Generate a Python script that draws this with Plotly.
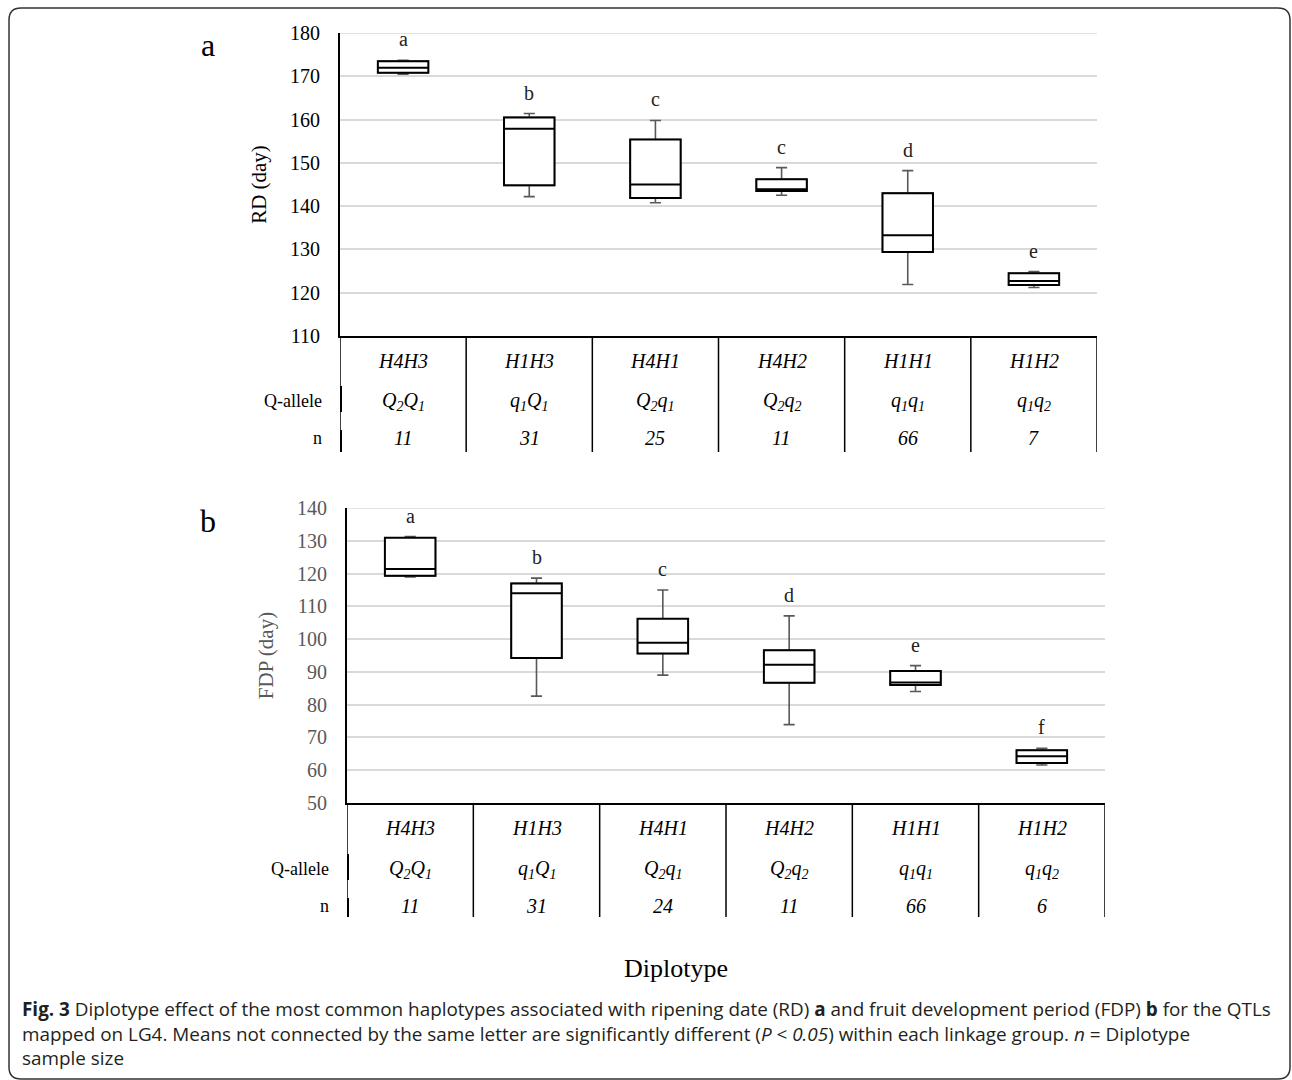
import plotly.graph_objects as go

# ---------------- data ----------------
diplotypes = ["H4H3", "H1H3", "H4H1", "H4H2", "H1H1", "H1H2"]
q_alleles = ["Q<sub>2</sub>Q<sub>1</sub>", "q<sub>1</sub>Q<sub>1</sub>", "Q<sub>2</sub>q<sub>1</sub>",
             "Q<sub>2</sub>q<sub>2</sub>", "q<sub>1</sub>q<sub>1</sub>", "q<sub>1</sub>q<sub>2</sub>"]

# Panel a: RD (day)
rd_low = [170.5, 142.2, 140.8, 142.5, 121.9, 121.2]
rd_q1 = [170.8, 144.8, 141.9, 143.5, 129.4, 121.8]
rd_med = [172.0, 157.9, 145.0, 143.9, 133.3, 122.7]
rd_q3 = [173.5, 160.5, 155.4, 146.2, 143.0, 124.5]
rd_high = [173.7, 161.4, 159.8, 148.9, 148.2, 124.9]
rd_letters = ["a", "b", "c", "c", "d", "e"]
rd_n = ["11", "31", "25", "11", "66", "7"]

# Panel b: FDP (day)
fdp_low = [119.0, 82.6, 89.0, 73.9, 84.0, 61.6]
fdp_q1 = [119.3, 94.2, 95.6, 86.7, 86.0, 62.2]
fdp_med = [121.4, 114.0, 98.9, 92.2, 86.8, 64.3]
fdp_q3 = [130.9, 117.0, 106.2, 96.6, 90.3, 66.1]
fdp_high = [131.3, 118.6, 115.0, 107.1, 91.9, 66.7]
fdp_letters = ["a", "b", "c", "d", "e", "f"]
fdp_n = ["11", "31", "24", "11", "66", "6"]

# ---------------- layout helpers ----------------
W, H = 1292, 1080
SERIF = "Liberation Serif"
SANS = "Open Sans"
GRAY = "#595959"
GRID = "#d9d9d9"


def px(x):
    return x / W


def py(y):
    return 1 - y / H


fig = go.Figure()

panels = [
    dict(xa="x", ya="y", low=rd_low, q1=rd_q1, med=rd_med, q3=rd_q3, high=rd_high,
         letters=rd_letters, n=rd_n, xdom=(340, 1097), ydom=(33, 336), tbl_bottom=452,
         rows=(361, 401, 438), rng=(110, 180), title="RD (day)", tcolor="black",
         label="a", label_pos=(208, 45)),
    dict(xa="x2", ya="y2", low=fdp_low, q1=fdp_q1, med=fdp_med, q3=fdp_q3, high=fdp_high,
         letters=fdp_letters, n=fdp_n, xdom=(347, 1105), ydom=(508, 803), tbl_bottom=917,
         rows=(828, 869, 906), rng=(50, 140), title="FDP (day)", tcolor=GRAY,
         label="b", label_pos=(208, 521)),
]

annotations = []
shapes = []


def ann(**kw):
    d = dict(showarrow=False, xanchor="center", yanchor="middle")
    d.update(kw)
    annotations.append(d)


for k, p in enumerate(panels):
    # whiskers (gray) - full box
    fig.add_trace(go.Box(
        x=diplotypes, q1=p["q1"], median=p["med"], q3=p["q3"],
        lowerfence=p["low"], upperfence=p["high"],
        width=0.4, whiskerwidth=0.22, boxpoints=False,
        line=dict(color=GRAY, width=1.6), fillcolor="white",
        xaxis=p["xa"], yaxis=p["ya"], hoverinfo="skip"))
    # box body (black) on top
    fig.add_trace(go.Box(
        x=diplotypes, q1=p["q1"], median=p["med"], q3=p["q3"],
        lowerfence=p["q1"], upperfence=p["q3"],
        width=0.4, whiskerwidth=0.0, boxpoints=False,
        line=dict(color="black", width=2), fillcolor="white",
        xaxis=p["xa"], yaxis=p["ya"]))

    ydom_px = p["ydom"][1] - p["ydom"][0]
    bottom = p["ydom"][1]

    def dom(y, bottom=bottom, ydom_px=ydom_px):
        return -(y - bottom) / ydom_px

    ydomref = p["ya"] + " domain"
    xdomref = p["xa"] + " domain"
    # top gridline (at the range maximum)
    shapes.append(dict(type="line", xref=xdomref, yref=p["ya"], x0=0, x1=1,
                       y0=p["rng"][1], y1=p["rng"][1], layer="below",
                       line=dict(color=GRID, width=1.5)))
    for i, cat in enumerate(diplotypes):
        # significance letters
        ann(x=cat, y=p["high"][i], xref=p["xa"], yref=p["ya"], text=p["letters"][i],
            yshift=21, font=dict(family=SERIF, size=20, color="#222"))
        # table rows
        ann(x=cat, y=dom(p["rows"][0]), xref=p["xa"], yref=ydomref,
            text="<i>%s</i>" % cat, font=dict(family=SERIF, size=20, color="black"))
        ann(x=cat, y=dom(p["rows"][1]), xref=p["xa"], yref=ydomref,
            text="<i>%s</i>" % q_alleles[i], font=dict(family=SERIF, size=20, color="black"))
        ann(x=cat, y=dom(p["rows"][2]), xref=p["xa"], yref=ydomref,
            text="<i>%s</i>" % p["n"][i], font=dict(family=SERIF, size=20, color="black"))
    # row labels
    ann(x=-0.5, y=dom(p["rows"][1]), xref=p["xa"], yref=ydomref, text="Q-allele",
        xanchor="right", xshift=-16, font=dict(family=SERIF, size=18, color="black"))
    ann(x=-0.5, y=dom(p["rows"][2]), xref=p["xa"], yref=ydomref, text="n",
        xanchor="right", xshift=-16, font=dict(family=SERIF, size=18, color="black"))
    # panel label
    ann(x=px(p["label_pos"][0]), y=py(p["label_pos"][1]), xref="paper", yref="paper",
        text=p["label"], font=dict(family=SERIF, size=32, color="black"))
    # table grid lines
    tb = dom(p["tbl_bottom"])
    for j in range(len(diplotypes) + 1):
        shapes.append(dict(type="line", xref=p["xa"], yref=ydomref, x0=j - 0.5, x1=j - 0.5,
                           y0=0, y1=tb, line=dict(color="black", width=1.5)))
    # thick left-border segments at Q-allele and n rows
    for (a, b) in [(p["rows"][1] - 15, p["rows"][1] + 11), (p["rows"][2] - 8, p["tbl_bottom"])]:
        shapes.append(dict(type="line", xref=p["xa"], yref=ydomref, x0=-0.5, x1=-0.5,
                           y0=dom(a), y1=dom(b), line=dict(color="black", width=4)))

    axis_sfx = "" if k == 0 else "2"
    fig.update_layout(**{
        "xaxis" + axis_sfx: dict(domain=[px(p["xdom"][0]), px(p["xdom"][1])], type="category",
                                 categoryorder="array", categoryarray=diplotypes,
                                 range=[-0.5, 5.5], showticklabels=False, ticks="",
                                 showgrid=False, zeroline=False, showline=True,
                                 linecolor="black", linewidth=2, anchor=p["ya"],
                                 fixedrange=True, automargin=False),
        "yaxis" + axis_sfx: dict(domain=[py(p["ydom"][1]), py(p["ydom"][0])],
                                 range=list(p["rng"]), dtick=10, tick0=0,
                                 showline=True, linecolor="black", linewidth=2,
                                 showgrid=True, gridcolor=GRID, gridwidth=1.5,
                                 zeroline=False, ticks="", ticklabelstandoff=14,
                                 tickfont=dict(family=SERIF, size=20, color=p["tcolor"]),
                                 title=dict(text=p["title"], standoff=18,
                                            font=dict(family=SERIF, size=21, color=p["tcolor"])),
                                 anchor=p["xa"], fixedrange=True, automargin=False),
    })

# x-axis common title
ann(x=px(676), y=py(968), xref="paper", yref="paper", text="Diplotype",
    font=dict(family=SERIF, size=26, color="black"))

# caption (single multi-line text)
caption = (
    "<b>Fig. 3</b> Diplotype effect of the most common haplotypes associated with ripening date (RD) "
    "<b>a</b> and fruit development period (FDP) <b>b</b> for the QTLs<br>"
    "mapped on LG4. Means not connected by the same letter are significantly different "
    "(<i>P</i> &lt; <i>0.05</i>) within each linkage group. <i>n</i> = Diplotype<br>"
    "sample size"
)
ann(x=px(20), y=py(1033), xref="paper", yref="paper", text=caption,
    xanchor="left", align="left", font=dict(family=SANS, size=18.9, color="#231f20"))

# rounded frame
x0f, x1f, y0f, y1f, r = 9, 1290, 8, 1079, 12
path = (f"M {px(x0f)},{py(y1f - r)} L {px(x0f)},{py(y0f + r)} "
        f"Q {px(x0f)},{py(y0f)} {px(x0f + r)},{py(y0f)} "
        f"L {px(x1f - r)},{py(y0f)} Q {px(x1f)},{py(y0f)} {px(x1f)},{py(y0f + r)} "
        f"L {px(x1f)},{py(y1f - r)} Q {px(x1f)},{py(y1f)} {px(x1f - r)},{py(y1f)} "
        f"L {px(x0f + r)},{py(y1f)} Q {px(x0f)},{py(y1f)} {px(x0f)},{py(y1f - r)}")
shapes.append(dict(type="path", xref="paper", yref="paper", path=path,
                   line=dict(color="#333", width=1.5)))

fig.update_layout(width=W, height=H, margin=dict(l=0, r=0, t=0, b=0, pad=0, autoexpand=False),
                  paper_bgcolor="white", plot_bgcolor="white", showlegend=False,
                  annotations=annotations, shapes=shapes, boxmode="overlay")

fig.write_html("out.html", post_script="document.body.style.margin='0';",
               config={"displayModeBar": False})
